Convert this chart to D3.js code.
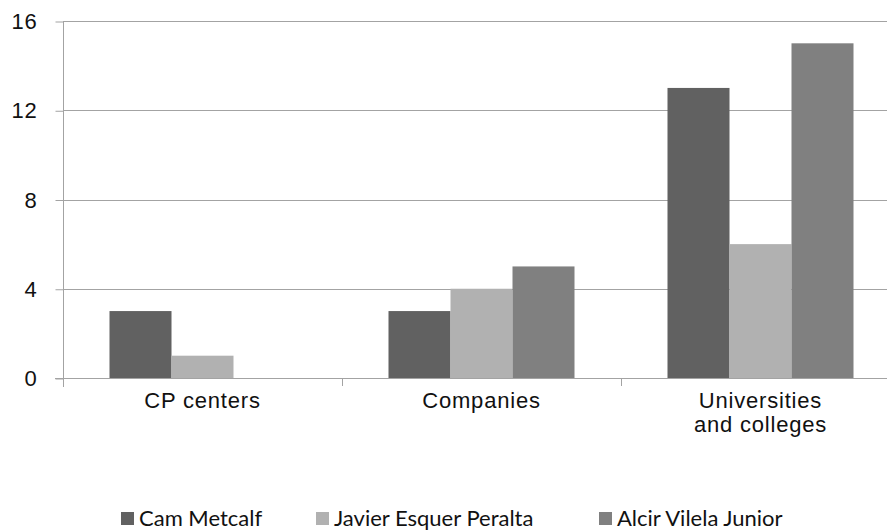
<!DOCTYPE html>
<html>
<head>
<meta charset="utf-8">
<script src="https://cdn.jsdelivr.net/npm/d3@7"></script>
<style>
    html, body { margin: 0; padding: 0; background: #ffffff; }
</style>
</head>
<body>
<svg id="my-svg"></svg>
<script>
const categories = ["CP centers", "Companies", "Universities and colleges"];
const categoryLines = [["CP centers"], ["Companies"], ["Universities", "and colleges"]];
const seriesNames = ["Cam Metcalf", "Javier Esquer Peralta", "Alcir Vilela Junior"];
const camMetcalf = [3, 3, 13];
const javierEsquerPeralta = [1, 4, 6];
const alcirVilelaJunior = [0, 5, 15];
const yTicks = [0, 4, 8, 12, 16];
const seriesColors = ["#616161", "#b1b1b1", "#808080"];

const width = 887;
const height = 531;
const margin = { top: 21, left: 63, bottom: 153 };
const plotRight = 900;
const axisColor = "#a3a3a3";

const seriesValues = [camMetcalf, javierEsquerPeralta, alcirVilelaJunior];
const data = categories.map((c, i) => ({
    category: c,
    lines: categoryLines[i],
    values: seriesNames.map((s, j) => ({ series: s, value: seriesValues[j][i], color: seriesColors[j] }))
}));

const svg = d3.select("#my-svg")
    .attr("width", width)
    .attr("height", height)
    .style("display", "block");

const x0 = d3.scaleBand()
    .domain(categories)
    .range([margin.left, plotRight])
    .padding(0);

const step = x0.step();
const x1 = d3.scaleBand()
    .domain(seriesNames)
    .range([step / 6, step * 5 / 6])
    .padding(0);

const y = d3.scaleLinear()
    .domain([0, 16])
    .range([height - margin.bottom - 0, margin.top]);

// adjust so 0 sits at 378
y.range([378, margin.top]);

// gridlines
svg.append("g")
    .attr("class", "gridlines")
    .selectAll("line")
    .data(yTicks.filter(d => d !== 0))
    .enter().append("line")
    .attr("x1", margin.left)
    .attr("x2", width)
    .attr("y1", d => Math.round(y(d)) + 0.5)
    .attr("y2", d => Math.round(y(d)) + 0.5)
    .style("stroke", axisColor)
    .style("stroke-width", 1);

// bars
const groups = svg.append("g")
    .selectAll("g")
    .data(data)
    .enter().append("g")
    .attr("transform", d => `translate(${x0(d.category)},0)`);

groups.selectAll("rect")
    .data(d => d.values.filter(v => v.value > 0))
    .enter().append("rect")
    .attr("x", d => x1(d.series))
    .attr("y", d => y(d.value))
    .attr("width", x1.bandwidth())
    .attr("height", d => y(0) - y(d.value))
    .attr("fill", d => d.color);

// y axis
const yAxis = svg.append("g")
    .attr("transform", `translate(${margin.left + 0.5},0.5)`)
    .call(d3.axisLeft(y)
        .tickValues(yTicks)
        .tickSize(8)
        .tickPadding(18)
        .tickFormat(d3.format("d"))
    );

yAxis.select(".domain").remove();
yAxis.selectAll("line").style("stroke", axisColor);
yAxis.selectAll("text")
    .style("font-family", "'Liberation Sans', Arial, sans-serif")
    .style("font-size", "22px")
    .style("letter-spacing", "0.8px")
    .style("fill", "#111");

svg.append("line")
    .attr("x1", margin.left + 0.5)
    .attr("x2", margin.left + 0.5)
    .attr("y1", margin.top)
    .attr("y2", 387)
    .style("stroke", axisColor);

// x axis
svg.append("line")
    .attr("x1", margin.left - 8)
    .attr("x2", width)
    .attr("y1", Math.round(y(0)) + 0.5)
    .attr("y2", Math.round(y(0)) + 0.5)
    .style("stroke", axisColor);

svg.append("g")
    .selectAll("line")
    .data(categories.slice(1))
    .enter().append("line")
    .attr("x1", d => Math.round(x0(d)) + 0.5)
    .attr("x2", d => Math.round(x0(d)) + 0.5)
    .attr("y1", y(0))
    .attr("y2", y(0) + 8)
    .style("stroke", axisColor);

const catLabels = svg.append("g")
    .selectAll("text")
    .data(data)
    .enter().append("text")
    .attr("x", d => x0(d.category) + step / 2)
    .attr("y", 408)
    .attr("text-anchor", "middle")
    .style("font-family", "'Liberation Sans', Arial, sans-serif")
    .style("font-size", "22px")
    .style("letter-spacing", "0.8px")
    .style("fill", "#111");

catLabels.selectAll("tspan")
    .data(d => d.lines.map(l => ({ text: l, x: x0(d.category) + step / 2 })))
    .enter().append("tspan")
    .attr("x", d => d.x)
    .attr("dy", (d, i) => i === 0 ? 0 : 24)
    .text(d => d.text);

// legend
const legendX = [121, 316, 599];
const legendY = 518;

const legend = svg.append("g")
    .selectAll("g")
    .data(seriesNames)
    .enter().append("g")
    .attr("transform", (d, i) => `translate(${legendX[i]},${legendY})`);

legend.append("rect")
    .attr("x", 0)
    .attr("y", -6)
    .attr("width", 13)
    .attr("height", 13)
    .attr("fill", (d, i) => seriesColors[i]);

legend.append("text")
    .attr("x", 18)
    .attr("y", 8)
    .style("font-family", "Lato, 'Open Sans', sans-serif")
    .style("font-size", "22px")
    .style("fill", "#111")
    .text(d => d);
</script>
</body>
</html>
